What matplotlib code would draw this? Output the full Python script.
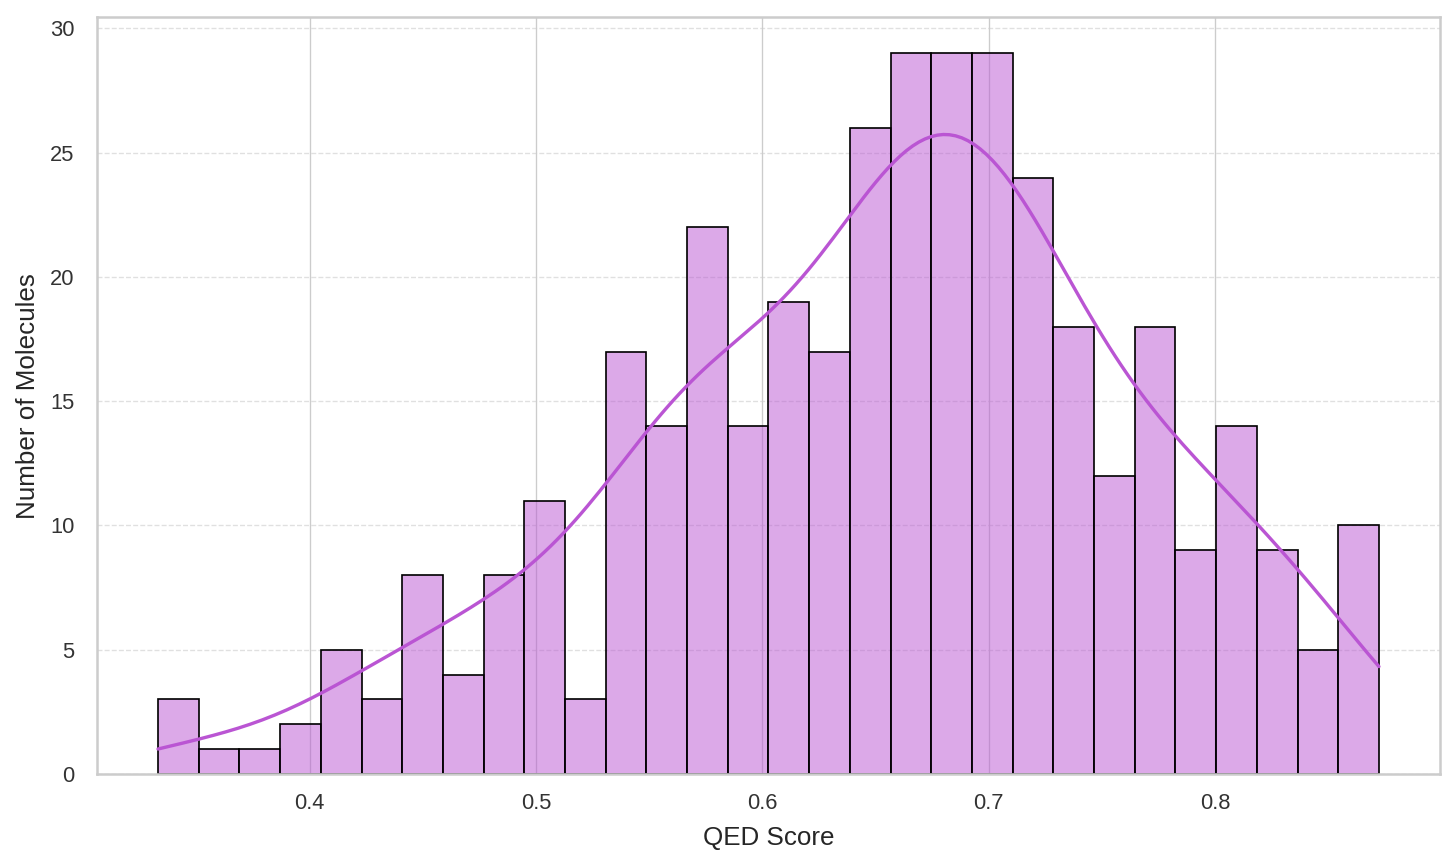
import numpy as np
import matplotlib.pyplot as plt
import seaborn as sns

# Data: histogram (30 bins)
bin_lo = 0.333
bin_hi = 0.8723
n_bins = 30
counts = [3, 1, 1, 2, 5, 3, 8, 4, 8, 11,
          3, 17, 14, 22, 14, 19, 17, 26, 29, 29,
          29, 24, 18, 12, 18, 9, 14, 9, 5, 10]

edges = np.linspace(bin_lo, bin_hi, n_bins + 1)
centers = (edges[:-1] + edges[1:]) / 2

sns.set_style("whitegrid")
plt.rcParams["font.family"] = ["Liberation Sans", "DejaVu Sans"]
fig = plt.figure(figsize=(1456 / 121, 861 / 121), dpi=121)
ax = fig.add_axes([0.0666, 0.101, 0.9224, 0.879])

sns.histplot(x=centers, weights=counts, bins=n_bins, binrange=(bin_lo, bin_hi),
             kde=True, color="mediumorchid", edgecolor="black", alpha=0.5,
             linewidth=1, kde_kws={"bw_adjust": 0.56, "cut": 1, "clip": (bin_lo, bin_hi)},
             line_kws={"linewidth": 2}, ax=ax)

ax.set_xlim(bin_lo - 0.05 * (bin_hi - bin_lo), bin_hi + 0.05 * (bin_hi - bin_lo))
ax.grid(axis="y", linestyle="--", alpha=0.6)
ax.set_xlabel("QED Score", fontsize=15.5, labelpad=7)
ax.set_ylabel("Number of Molecules", fontsize=15.5, labelpad=6)
ax.tick_params(labelsize=13, colors=".2")
ax.tick_params(axis="x", pad=8)
ax.tick_params(axis="y", pad=10)
for s in ax.spines.values():
    s.set_linewidth(1.5)
    s.set_color(".8")

fig.savefig("out.png", dpi=121)
